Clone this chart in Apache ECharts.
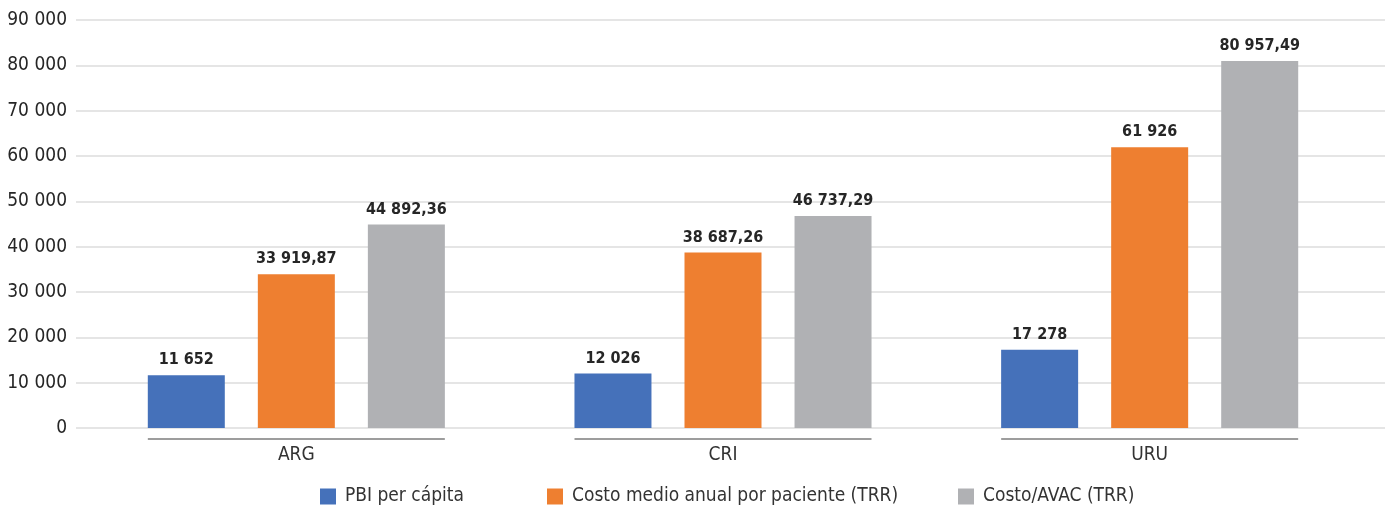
<!DOCTYPE html>
<html>
<head>
<meta charset="utf-8">
<script src="https://cdn.jsdelivr.net/npm/echarts@6/dist/echarts.min.js"></script>
<style>
  html, body { margin: 0; padding: 0; background: #ffffff; }
  #chart { width: 1385px; height: 508px; }
</style>
</head>
<body>
<div id="chart"></div>
<script>
// Country groups along the category axis
const categories = ['ARG', 'CRI', 'URU'];

// Series names and values (USD)
const seriesNames = [
  'PBI per cápita',
  'Costo medio anual por paciente (TRR)',
  'Costo/AVAC (TRR)'
];
const pbiPerCapita = [11652, 12026, 17278];
const costoMedioAnual = [33919.87, 38687.26, 61926];
const costoAvac = [44892.36, 46737.29, 80957.49];

// Value axis range
const yMin = 0;
const yMax = 90000;
const yInterval = 10000;

const FONT = '"Liberation Sans Narrow", "DejaVu Sans Condensed", "Arial Narrow", sans-serif';
const colors = ['#4571BA', '#EE7F30', '#B0B1B4'];
const BAR_W = 77;
const BAR_GAP = 33;

// Numbers with a space as thousands separator and comma for decimals
function fmt(v) {
  const s = Number.isInteger(v) ? v.toFixed(0) : v.toFixed(2);
  const parts = s.split('.');
  const intPart = parts[0].replace(/\B(?=(\d{3})+(?!\d))/g, ' ');
  return parts[1] ? intPart + ',' + parts[1] : intPart;
}

function barSeries(name, data, color) {
  return {
    name: name,
    type: 'bar',
    xAxisIndex: 1,
    yAxisIndex: 1,
    data: data,
    barWidth: BAR_W,
    barGap: (BAR_GAP / BAR_W * 100).toFixed(1) + '%',
    itemStyle: { color: color },
    label: {
      show: true,
      position: 'top',
      distance: 7,
      formatter: p => fmt(p.value),
      fontFamily: FONT,
      fontWeight: 'bold',
      fontSize: 16,
      color: '#262626'
    }
  };
}

const chart = echarts.init(document.getElementById('chart'), null, { renderer: 'canvas' });

const legendLefts = [315, 542, 953];

chart.setOption({
  animation: false,
  backgroundColor: '#ffffff',
  grid: [
    { left: 76, right: 0, top: 20, bottom: 80 },
    { left: 83, right: 22, top: 20, bottom: 80 }
  ],
  legend: seriesNames.map((n, i) => ({
    data: [n],
    left: legendLefts[i],
    top: 482,
    itemWidth: 16,
    itemHeight: 16,
    icon: 'rect',
    selectedMode: false,
    textStyle: {
      fontFamily: FONT,
      fontSize: 19,
      color: '#333333',
      padding: [0, 0, 0, 4]
    }
  })),
  xAxis: [
    {
      type: 'category',
      gridIndex: 0,
      data: categories,
      show: false
    },
    {
      type: 'category',
      gridIndex: 1,
      data: categories,
      axisLine: { show: false },
      axisTick: { show: false },
      axisLabel: {
        margin: 18,
        fontFamily: FONT,
        fontSize: 19,
        color: '#333333'
      }
    }
  ],
  yAxis: [
    {
      type: 'value',
      gridIndex: 0,
      min: yMin,
      max: yMax,
      interval: yInterval,
      axisLine: { show: false },
      axisTick: { show: false },
      axisLabel: {
        margin: 9,
        formatter: v => fmt(v),
        fontFamily: FONT,
        fontSize: 19,
        color: '#262626'
      },
      splitLine: { lineStyle: { color: '#dcdcdc', width: 1.5 } }
    },
    {
      type: 'value',
      gridIndex: 1,
      min: yMin,
      max: yMax,
      interval: yInterval,
      show: false,
      splitLine: { show: false }
    }
  ],
  series: [
    barSeries(seriesNames[0], pbiPerCapita, colors[0]),
    barSeries(seriesNames[1], costoMedioAnual, colors[1]),
    barSeries(seriesNames[2], costoAvac, colors[2]),
    {
      // Underline spanning each group of bars
      type: 'custom',
      xAxisIndex: 1,
      yAxisIndex: 1,
      silent: true,
      data: categories.map((c, i) => [i, 0]),
      renderItem: function (params, api) {
        const p = api.coord([api.value(0), 0]);
        const half = 1.5 * BAR_W + BAR_GAP;
        return {
          type: 'line',
          shape: { x1: p[0] - half, y1: p[1] + 11, x2: p[0] + half, y2: p[1] + 11 },
          style: { stroke: '#9d9d9d', lineWidth: 2 }
        };
      }
    }
  ]
});
</script>
</body>
</html>
